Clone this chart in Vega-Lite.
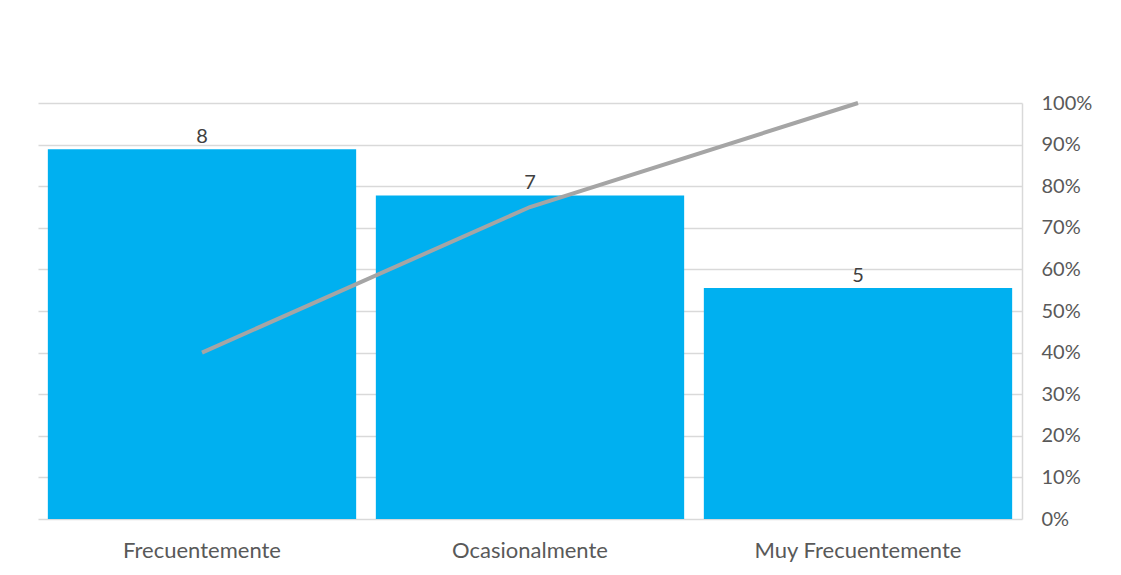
{
  "$schema": "https://vega.github.io/schema/vega-lite/v6.json",
  "width": 984,
  "height": 416,
  "autosize": {"type": "none"},
  "padding": {"left": 38, "top": 103, "right": 99, "bottom": 56},
  "background": "white",
  "config": {
    "view": {"stroke": null},
    "font": "Lato"
  },
  "data": {
    "values": [
      {"categoria": "Frecuentemente", "frecuencia": 8, "acumulado": 0.40},
      {"categoria": "Ocasionalmente", "frecuencia": 7, "acumulado": 0.75},
      {"categoria": "Muy Frecuentemente", "frecuencia": 5, "acumulado": 1.0}
    ]
  },
  "encoding": {
    "x": {
      "field": "categoria",
      "type": "nominal",
      "sort": null,
      "scale": {"paddingInner": 0.06, "paddingOuter": 0.03},
      "axis": {
        "title": null,
        "labelAngle": 0,
        "labelFontSize": 22,
        "labelColor": "#595959",
        "labelFont": "Lato",
        "labelPadding": 21,
        "labelLimit": 0,
        "ticks": false,
        "domain": false
      }
    }
  },
  "layer": [
    {
      "mark": {"type": "bar", "color": "#00b0f0"},
      "encoding": {
        "y": {
          "field": "frecuencia",
          "type": "quantitative",
          "scale": {"domain": [0, 9], "nice": false},
          "axis": null
        }
      }
    },
    {
      "mark": {"type": "text", "baseline": "bottom", "dy": -2, "fontSize": 20, "color": "#404040", "font": "Lato"},
      "encoding": {
        "y": {
          "field": "frecuencia",
          "type": "quantitative",
          "scale": {"domain": [0, 9], "nice": false},
          "axis": null
        },
        "text": {"field": "frecuencia", "type": "quantitative"}
      }
    },
    {
      "mark": {"type": "line", "color": "#a5a5a5", "strokeWidth": 4, "strokeCap": "butt"},
      "encoding": {
        "y": {
          "field": "acumulado",
          "type": "quantitative",
          "scale": {"domain": [0, 1], "nice": false},
          "axis": {
            "orient": "right",
            "title": null,
            "format": ".0%",
            "values": [0, 0.1, 0.2, 0.3, 0.4, 0.5, 0.6, 0.7, 0.8, 0.9, 1.0],
            "grid": true,
            "gridColor": "#d9d9d9",
            "gridWidth": 1.5,
            "domain": true,
            "domainColor": "#d9d9d9",
            "domainWidth": 1.5,
            "ticks": false,
            "labelFontSize": 20,
            "labelColor": "#595959",
            "labelFont": "Lato",
            "labelPadding": 19
          }
        }
      }
    }
  ],
  "resolve": {"scale": {"y": "independent"}}
}
